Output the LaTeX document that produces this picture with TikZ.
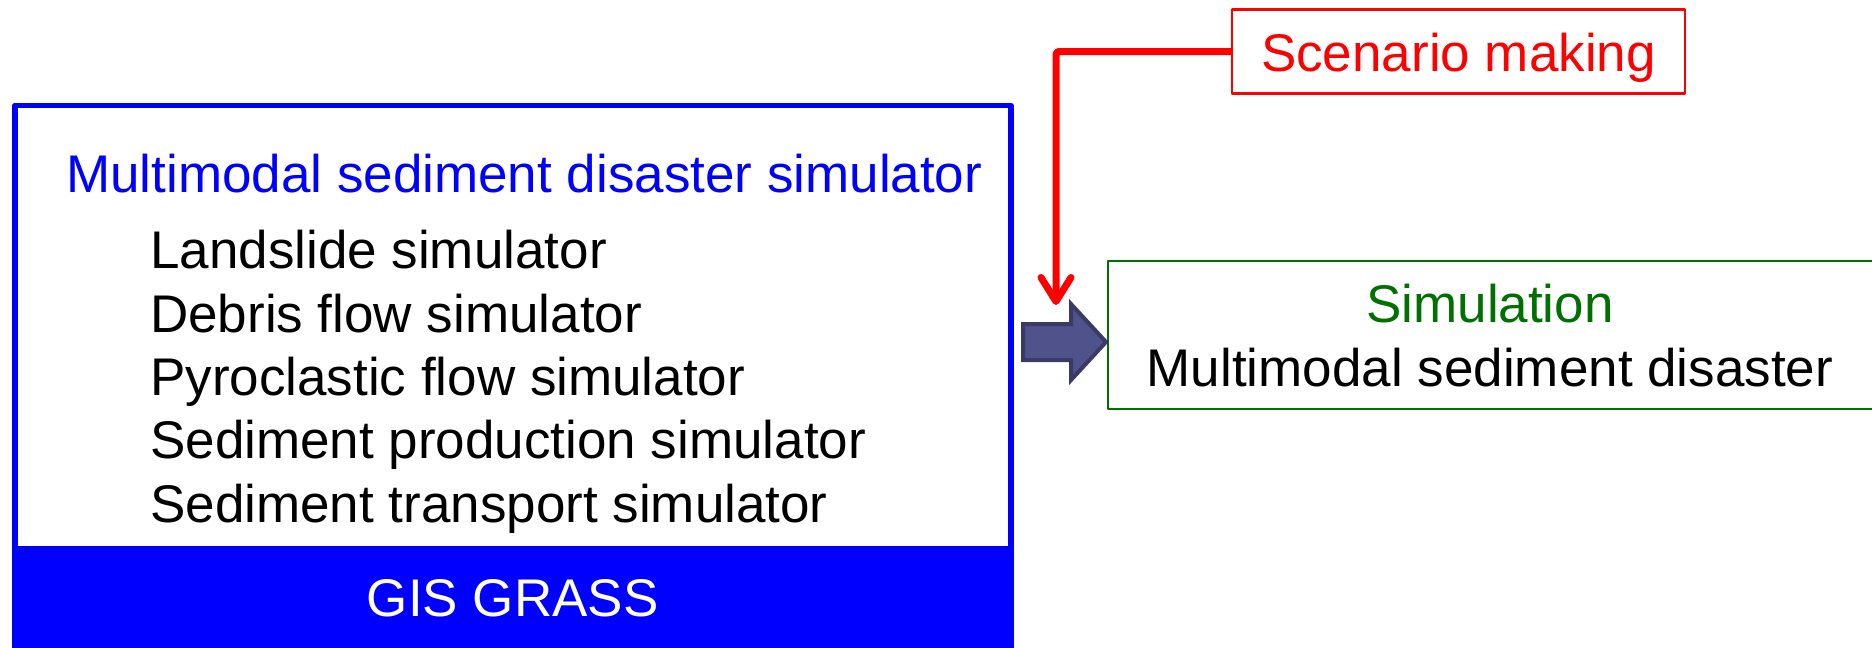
\documentclass[tikz,border=0pt]{standalone}
\usepackage{fontspec}
\setmainfont{Liberation Sans}
\usetikzlibrary{arrows.meta}
\definecolor{myblue}{RGB}{0,0,255}
\definecolor{myred}{RGB}{255,0,0}
\definecolor{mygreen}{RGB}{0,112,0}
\definecolor{arrfill}{RGB}{80,82,140}
\definecolor{arrdraw}{RGB}{58,58,100}
\tikzset{
  bigtext/.style={font=\fontsize{53}{63.5}\selectfont, inner sep=0pt},
  framebox/.style={inner sep=0pt, outer sep=0pt, line join=round},
  listitem/.style={bigtext, anchor=base west, text=black},
  redconn/.style={draw=myred, line width=7pt, line join=round, rounded corners=3pt,
    -{Straight Barb[length=24pt,width=30pt,line cap=round,line join=round]}},
  blockarrow/.style={fill=arrfill, draw=arrdraw, line width=4pt, line join=miter},
}
\begin{document}
\begin{tikzpicture}[x=1pt,y=-1pt]
\clip (0,0) rectangle (1872,648);
\fill[white] (0,0) rectangle (1872,648);
% left simulator box
\node[framebox, draw=myblue, line width=5.5pt, minimum width=996pt, minimum height=620pt,
  anchor=north west] (simbox) at (14.75,105.5) {};
\node[bigtext, outer sep=0pt, fill=myblue, text=white, minimum width=1001.5pt, minimum height=104pt,
  anchor=north west] (gis) at (12,546) {GIS GRASS};
\node[bigtext, anchor=base west, text=myblue] (title) at (66,192) {Multimodal sediment disaster simulator};
\node[listitem] (l1) at (150,268) {Landslide simulator};
\node[listitem] (l2) at (150,332) {Debris flow simulator};
\node[listitem] (l3) at (150,395) {Pyroclastic flow simulator};
\node[listitem] (l4) at (150,458) {Sediment production simulator};
\node[listitem] (l5) at (150,522) {Sediment transport simulator};
% scenario box
\node[framebox, draw=myred, line width=2.5pt, minimum width=453pt, minimum height=84pt,
  anchor=north west] (scen) at (1232,9.5) {};
\node[bigtext, anchor=base, text=myred] (scentext) at (1458.5,71) {Scenario making};
% result box
\node[framebox, draw=mygreen, line width=2.5pt, minimum width=800pt, minimum height=148pt,
  anchor=north west] (res) at (1108,261) {};
\node[bigtext, anchor=base, text=mygreen] (restitle) at (1490,322) {Simulation};
\node[bigtext, anchor=base, text=black] (restext) at (1490,386) {Multimodal sediment disaster};
% connectors
\coordinate (rtip) at (1056,305);
\draw[redconn] (scen.west) -| (rtip);
\draw[blockarrow] (1023,324) -- (1071,324) -- (1071,304) -- (1106,342) -- (1071,380)
  -- (1071,360) -- (1023,360) -- cycle;
\end{tikzpicture}
\end{document}
